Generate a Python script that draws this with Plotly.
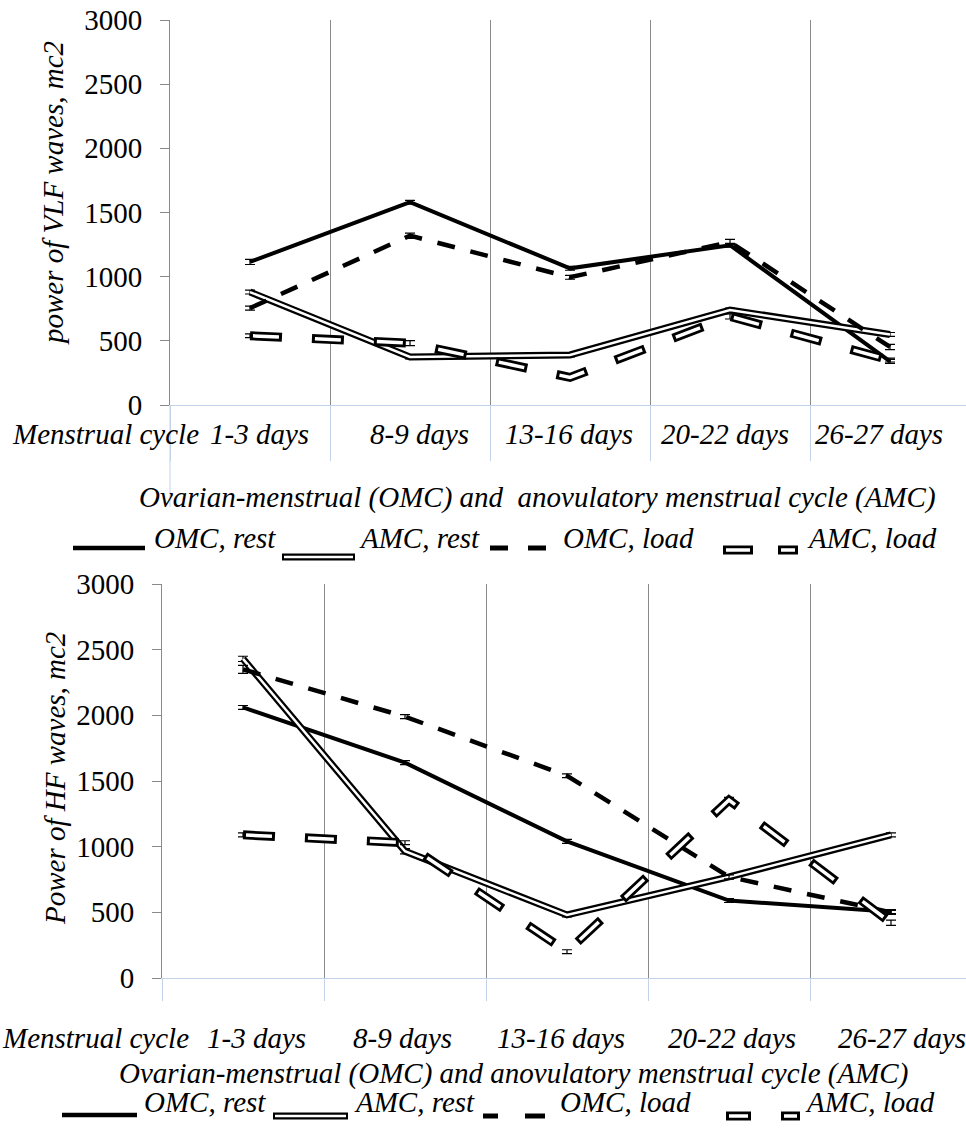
import plotly.graph_objects as go

W, H = 966, 1128

# ---------------- data ----------------
categories = ["1-3 days", "8-9 days", "13-16 days", "20-22 days", "26-27 days"]
series_names = ["OMC, rest", "AMC, rest", "OMC, load", "AMC, load"]

# VLF (top chart)
vlf_omc_rest = [1115, 1580, 1065, 1245, 340]
vlf_amc_rest = [880, 375, 390, 740, 550]
vlf_omc_load = [755, 1320, 995, 1270, 452]
vlf_amc_load = [540, 482, 215, 690, 350]
vlf_omc_rest_err = [20, 15, 15, 15, 15]
vlf_amc_rest_err = [15, 15, 15, 15, 15]
vlf_omc_load_err = [15, 20, 15, 20, 20]
vlf_amc_load_err = [15, 20, 15, 20, 15]

# HF (bottom chart)
hf_omc_rest = [2060, 1640, 1040, 590, 505]
hf_amc_rest = [2430, 965, 480, 770, 1090]
hf_omc_load = [2350, 1990, 1540, 770, 500]
hf_amc_load = [1090, 1030, 200, 1355, 420]
hf_omc_rest_err = [15, 15, 15, 15, 15]
hf_amc_rest_err = [20, 20, 15, 15, 15]
hf_omc_load_err = [30, 15, 15, 15, 15]
hf_amc_load_err = [15, 15, 15, 20, 20]

y_titles = ["power of VLF waves, mc2", "Power of HF waves, mc2"]
x_title = "Ovarian-menstrual (OMC) and\u00a0\u00a0anovulatory menstrual cycle (AMC)"
x_title2 = "Ovarian-menstrual (OMC) and anovulatory menstrual cycle (AMC)"
x_prefix = "Menstrual cycle"

# ---------------- styles ----------------
FONT = "Liberation Serif"
FS = 29
BLUE = "#C3D3EA"
GRAY = "#8A8A8A"

styles = {
    "OMC, rest": [dict(color="black", width=4)],
    "AMC, rest": [dict(color="black", width=7), dict(color="white", width=2.5)],
    "OMC, load": [dict(color="black", width=4.5, dash="18px,16px")],
    "AMC, load": [dict(color="black", width=9, dash="32px,30px"),
                  dict(color="white", width=3.5, dash="0px,3px,26px,33px")],
}


def px(x):
    return x / W


def py(y):
    return 1 - y / H


fig = go.Figure()


def add_chart(xa, ya, data, errs):
    for name, vals, err in zip(series_names, data, errs):
        for k, ln in enumerate(styles[name]):
            fig.add_trace(go.Scatter(
                x=categories, y=vals, mode="lines", line=ln,
                xaxis=xa, yaxis=ya, showlegend=False, hoverinfo="skip",
                error_y=(dict(type="data", array=err, color="black",
                              thickness=1.2, width=5) if k == 0 else None),
            ))


add_chart("x", "y",
          [vlf_omc_rest, vlf_amc_rest, vlf_omc_load, vlf_amc_load],
          [vlf_omc_rest_err, vlf_amc_rest_err, vlf_omc_load_err, vlf_amc_load_err])
add_chart("x2", "y2",
          [hf_omc_rest, hf_amc_rest, hf_omc_load, hf_amc_load],
          [hf_omc_rest_err, hf_amc_rest_err, hf_omc_load_err, hf_amc_load_err])

tickfont = dict(family=FONT, size=FS, color="black")


def xaxis_cfg(dom_left, rng_right, ticklen):
    return dict(type="category", categoryorder="array", categoryarray=categories,
                domain=[px(dom_left), 1], range=[-0.5, rng_right],
                tickson="boundaries", showgrid=True, gridcolor=GRAY, gridwidth=1,
                ticks="outside", ticklen=ticklen, tickcolor=BLUE, tickwidth=1,
                showline=True, linecolor=BLUE, linewidth=1, automargin=False,
                showticklabels=False, zeroline=False, fixedrange=True)


def yaxis_cfg(top, bottom, anchor):
    return dict(domain=[py(bottom), py(top)], range=[0, 3000], dtick=500,
                showline=True, linecolor=GRAY, linewidth=1, automargin=False,
                ticks="outside", ticklen=9, tickcolor=GRAY, tickwidth=1,
                showgrid=False, zeroline=False, tickfont=tickfont,
                ticklabelstandoff=12, anchor=anchor, fixedrange=True)


fig.update_layout(
    template="none",
    width=W, height=H, margin=dict(l=0, r=0, t=0, b=0, pad=0, autoexpand=False),
    paper_bgcolor="white", plot_bgcolor="white", showlegend=False,
    font=dict(family=FONT, size=FS, color="black"),
    xaxis=xaxis_cfg(170, 4.475, 55) | dict(anchor="y"),
    yaxis=yaxis_cfg(20, 405, "x"),
    xaxis2=xaxis_cfg(162, 4.463, 22) | dict(anchor="y2"),
    yaxis2=yaxis_cfg(584, 978, "x2"),
)

itf = dict(family=FONT, size=FS, color="black", style="italic")
ann = []
# y titles
ann.append(dict(text=y_titles[0], x=px(53), y=py(193), xref="paper", yref="paper",
                textangle=-90, showarrow=False, font=itf, xanchor="center", yanchor="middle"))
ann.append(dict(text=y_titles[1], x=px(55), y=py(779), xref="paper", yref="paper",
                textangle=-90, showarrow=False, font=itf, xanchor="center", yanchor="middle"))

# category labels
top_shift = [9, 9, -1, -5, -11]
bot_shift = [13, -3, -6, 3, 11]
for cat, sh in zip(categories, top_shift):
    ann.append(dict(text=cat, x=cat, xref="x", y=py(434), yref="paper", xshift=sh,
                    showarrow=False, font=itf, xanchor="center", yanchor="middle"))
for cat, sh in zip(categories, bot_shift):
    ann.append(dict(text=cat, x=cat, xref="x2", y=py(1038), yref="paper", xshift=sh,
                    showarrow=False, font=itf, xanchor="center", yanchor="middle"))
ann.append(dict(text=x_prefix, x=px(10), y=py(434), xref="paper", yref="paper",
                showarrow=False, font=itf, xanchor="left", yanchor="middle"))
ann.append(dict(text=x_prefix, x=px(0), y=py(1038), xref="paper", yref="paper",
                showarrow=False, font=itf, xanchor="left", yanchor="middle"))
ann.append(dict(text=x_title, x=px(537), y=py(498), xref="paper", yref="paper",
                showarrow=False, font=itf, xanchor="center", yanchor="middle"))
ann.append(dict(text=x_title2, x=px(513), y=py(1073), xref="paper", yref="paper",
                showarrow=False, font=itf, xanchor="center", yanchor="middle"))

# legends (text)
leg_top_x = [152, 357, 561, 805]
leg_bot_x = [142, 352, 558, 803]
for name, lx in zip(series_names, leg_top_x):
    ann.append(dict(text=name, x=px(lx), y=py(538), xref="paper", yref="paper",
                    showarrow=False, font=itf, xanchor="left", yanchor="middle"))
for name, lx in zip(series_names, leg_bot_x):
    ann.append(dict(text=name, x=px(lx), y=py(1102), xref="paper", yref="paper",
                    showarrow=False, font=itf, xanchor="left", yanchor="middle"))

shapes = []


def seg(x0, x1, y, color, width):
    shapes.append(dict(type="line", xref="paper", yref="paper", x0=px(x0), x1=px(x1),
                       y0=py(y), y1=py(y), line=dict(color=color, width=width)))


def legend_samples(xs, ys):
    (s0, s1), (d0, d1), dashes, ddashes = xs
    seg(s0, s1, ys[0], "black", 4.5)
    seg(d0, d1, ys[1], "black", 7)
    seg(d0 + 2, d1 - 2, ys[1], "white", 2.5)
    for a, b in dashes:
        seg(a, b, ys[2], "black", 5)
    for a, b in ddashes:
        seg(a, b, ys[3], "black", 9)
        seg(a + 3, b - 3, ys[3], "white", 3.5)


legend_samples([(73, 145), (282, 355), [(490, 508), (528, 546)], [(723, 753), (778, 798)]],
               [548, 557, 548, 550])
legend_samples([(62, 137), (273, 348), [(483, 498), (525, 545)], [(726, 751), (781, 800)]],
               [1115, 1116, 1116, 1116])

# longer blue tick at left edge of the top chart
shapes.append(dict(type="line", xref="paper", yref="paper", x0=px(170), x1=px(170),
                   y0=py(405), y1=py(507), line=dict(color=BLUE, width=1)))

fig.update_layout(annotations=ann, shapes=shapes)

fig.write_html("out.html", config={"displayModeBar": False},
               post_script="document.body.style.margin='0px';")
